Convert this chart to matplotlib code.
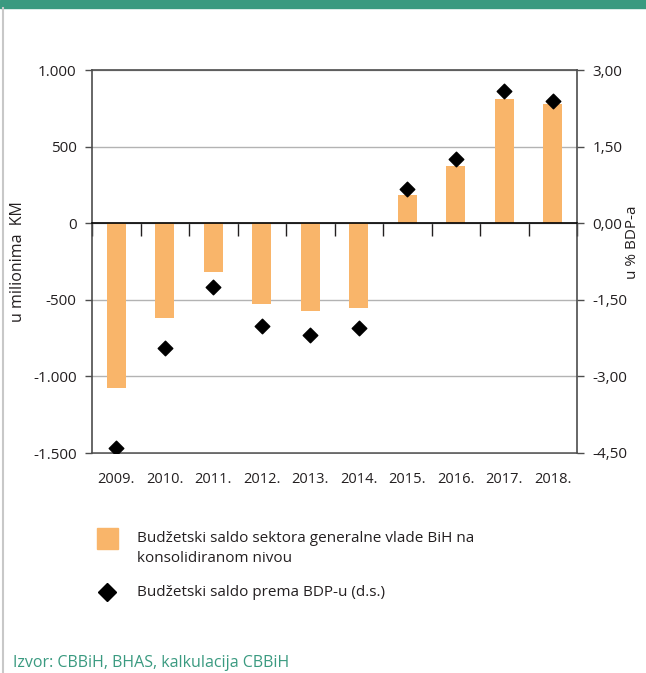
import numpy as np
import matplotlib.pyplot as plt
import matplotlib.patches as mpatches
from matplotlib.lines import Line2D
from matplotlib.ticker import FuncFormatter

plt.rcParams['font.family'] = ['Open Sans', 'DejaVu Sans']

# podaci
godine = ['2009.', '2010.', '2011.', '2012.', '2013.', '2014.', '2015.', '2016.', '2017.', '2018.']
saldo_km = [-1077, -617, -318, -527, -571, -552, 185, 376, 808, 780]      # u milionima KM
saldo_bdp = [-4.41, -2.45, -1.25, -2.01, -2.19, -2.05, 0.67, 1.25, 2.58, 2.40]  # u % BDP-a

lijeve_oznake = [-1500, -1000, -500, 0, 500, 1000]
desne_oznake = [-4.5, -3.0, -1.5, 0.0, 1.5, 3.0]

narandzasta = '#f9b56a'
zelena = '#3a9a80'
okvir = '#4d4d4d'
tekst = '#231f20'

W, H = 646, 673
fig = plt.figure(figsize=(W / 100, H / 100), dpi=100)

# zelena traka na vrhu i siva linija lijevo
fig.patches.append(mpatches.Rectangle((0, 1 - 8 / H), 1, 8 / H, transform=fig.transFigure,
                                      color=zelena, zorder=0))
fig.lines.append(Line2D([3 / W, 3 / W], [0, 1 - 8 / H], transform=fig.transFigure,
                        color='#c8c8c8', lw=1.5))

ax = fig.add_axes([92 / W, 1 - 453 / H, 485 / W, 383 / H])
x = np.arange(len(godine))

ax.bar(x, saldo_km, width=0.4, color=narandzasta, zorder=2)
ax.set_xlim(-0.5, len(godine) - 0.5)
ax.set_ylim(-1500, 1000)
ax.set_yticks(lijeve_oznake)
ax.yaxis.set_major_formatter(FuncFormatter(lambda v, p: f'{v:,.0f}'.replace(',', '.')))
ax.grid(axis='y', color='#b3b3b3', lw=1, zorder=0)
ax.tick_params(axis='y', direction='out', length=5, width=1, color=okvir, labelsize=11,
               labelcolor=tekst, pad=6)

# x osa na nuli, crtice izmedju godina
ax.spines['bottom'].set_position(('data', 0))
ax.spines['bottom'].set_color('black')
ax.spines['bottom'].set_linewidth(1.2)
ax.spines['bottom'].set_zorder(3)
ax.set_xticks(np.arange(-0.5, len(godine), 1.0))
ax.tick_params(axis='x', direction='out', length=9, width=1, color=tekst, labelbottom=False)
for s in ['top', 'left', 'right']:
    ax.spines[s].set_color(okvir)
    ax.spines[s].set_linewidth(1.2)

# godine ispod okvira
donja = ax.secondary_xaxis('bottom')
donja.set_xticks(x, godine)
donja.tick_params(length=0, pad=14, labelsize=10.5, labelcolor=tekst)
donja.spines['bottom'].set_color(okvir)
donja.spines['bottom'].set_linewidth(1.2)

ax.set_ylabel('u milionima  KM', fontsize=11.5, color=tekst)
ax.yaxis.set_label_coords(-0.137, 0.5)

# desna osa: saldo u % BDP-a
ax2 = ax.twinx()
ax2.scatter(x, saldo_bdp, marker='D', s=55, color='black', zorder=4)
ax2.set_ylim(-4.5, 3.0)
ax2.set_yticks(desne_oznake)
ax2.yaxis.set_major_formatter(FuncFormatter(lambda v, p: f'{v:.2f}'.replace('.', ',')))
ax2.tick_params(axis='y', direction='out', length=5, width=1, color=okvir, labelsize=11,
                labelcolor=tekst, pad=6)
for s in ax2.spines.values():
    s.set_visible(False)
ax2.set_ylabel('u % BDP-a', fontsize=11, color=tekst)
ax2.yaxis.set_label_coords(1.1, 0.55)

# legenda (ručno, da kvadrat stoji uz prvi red teksta)
fig.patches.append(mpatches.Rectangle((97 / W, 1 - 549 / H), 21 / W, 21 / H,
                                      transform=fig.transFigure, color=narandzasta))
fig.text(137 / W, 1 - 531 / H,
         'Budžetski saldo sektora generalne vlade BiH na\nkonsolidiranom nivou',
         fontsize=11, color=tekst, va='top', linespacing=1.45)
fig.lines.append(Line2D([107 / W], [1 - 592 / H], transform=fig.transFigure, marker='D',
                        color='black', ls='none', markersize=9))
fig.text(137 / W, 1 - 592 / H, 'Budžetski saldo prema BDP-u (d.s.)', fontsize=11,
         color=tekst, va='center')

fig.text(13 / W, 1 - 667 / H, 'Izvor: CBBiH, BHAS, kalkulacija CBBiH', color=zelena,
         fontsize=11.5, va='baseline')

fig.savefig('out.png', dpi=100)
